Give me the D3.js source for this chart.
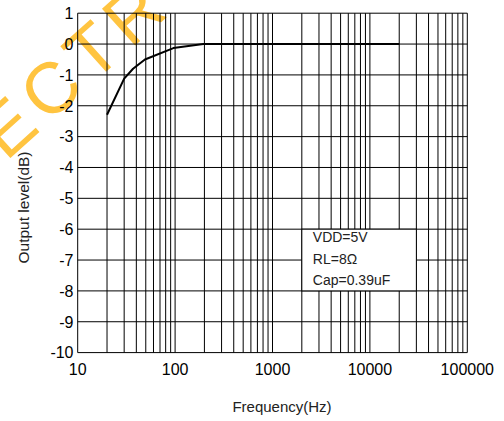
<!DOCTYPE html>
<html><head><meta charset="utf-8">
<script src="https://cdn.jsdelivr.net/npm/d3@7/dist/d3.min.js"></script>
<style>body{margin:0;background:#fff}svg{display:block}text{font-family:"Liberation Sans",Arial,sans-serif}</style>
</head><body>
<script>
const freqs = [20, 30, 37, 49, 96, 195, 20000];
const levels = [-2.29, -1.12, -0.80, -0.50, -0.13, 0, 0];
const xTickLabels = ["10", "100", "1000", "10000", "100000"];
const yTickValues = [1, 0, -1, -2, -3, -4, -5, -6, -7, -8, -9, -10];
const legendLines = ["VDD=5V", "RL=8\u03A9", "Cap=0.39uF"];
const xTitle = "Frequency(Hz)";
const yTitle = "Output level(dB)";
const watermark = "ECTRONICS";

const W = 504, H = 421;
const L = 77.7, R = 467.3, T = 13.2, B = 352.6;
const svg = d3.select("body").append("svg").attr("width", W).attr("height", H);
svg.append("rect").attr("width", W).attr("height", H).attr("fill", "#fff");

const x = d3.scaleLog().domain([10, 100000]).range([L, R]);
const y = d3.scaleLinear().domain([-10, 1]).range([B, T]);

// watermark
svg.append("text").text(watermark)
  .attr("transform", "translate(6,162) rotate(-42)")
  .attr("font-size", 72).attr("letter-spacing", 8)
  .attr("fill", "#FFC440");

// vertical grid
const vLines = [];
for (let d = 10; d < 100000; d *= 10) for (let k = 1; k <= 9; k++) vLines.push(d * k);
vLines.push(100000);
const g = svg.append("g");
g.selectAll(".v").data(vLines).enter().append("line")
  .attr("x1", d => x(d)).attr("x2", d => x(d)).attr("y1", T).attr("y2", B)
  .attr("stroke", "#000").attr("stroke-width", 1);
g.selectAll(".h").data(yTickValues).enter().append("line")
  .attr("x1", L).attr("x2", R).attr("y1", d => y(d)).attr("y2", d => y(d))
  .attr("stroke", "#000").attr("stroke-width", 1);

// tick labels
svg.selectAll(".xt").data(xTickLabels).enter().append("text")
  .attr("x", d => x(+d)).attr("y", 374.5).attr("text-anchor", "middle")
  .attr("font-size", 16).attr("fill", "#000").text(d => d);
svg.selectAll(".yt").data(yTickValues).enter().append("text")
  .attr("x", 73.5).attr("y", d => y(d) + 5.8).attr("text-anchor", "end")
  .attr("font-size", 16).attr("fill", "#000").text(d => d);

// titles
svg.append("text").attr("x", 282).attr("y", 411.7).attr("text-anchor", "middle")
  .attr("font-size", 15).attr("fill", "#222").text(xTitle);
svg.append("text").attr("transform", "translate(28.8,207.5) rotate(-90)").attr("text-anchor", "middle")
  .attr("font-size", 15.5).attr("fill", "#222").text(yTitle);

// curve
const line = d3.line().x(d => x(d[0])).y(d => y(d[1]));
svg.append("path").datum(freqs.map((f, i) => [f, levels[i]]))
  .attr("d", line).attr("fill", "none").attr("stroke", "#000").attr("stroke-width", 2)
  .attr("stroke-linejoin", "round");

// legend box
const bx0 = x(2000), bx1 = x(30000), by0 = y(-6), by1 = y(-8);
svg.append("rect").attr("x", bx0).attr("y", by0).attr("width", bx1 - bx0).attr("height", by1 - by0)
  .attr("fill", "#fff").attr("stroke", "#000").attr("stroke-width", 1);
svg.selectAll(".lg").data(legendLines).enter().append("text")
  .attr("x", bx0 + 11).attr("y", (d, i) => 241.7 + i * 21.8)
  .attr("font-size", 14).attr("fill", "#222").text(d => d);
</script>
</body></html>
